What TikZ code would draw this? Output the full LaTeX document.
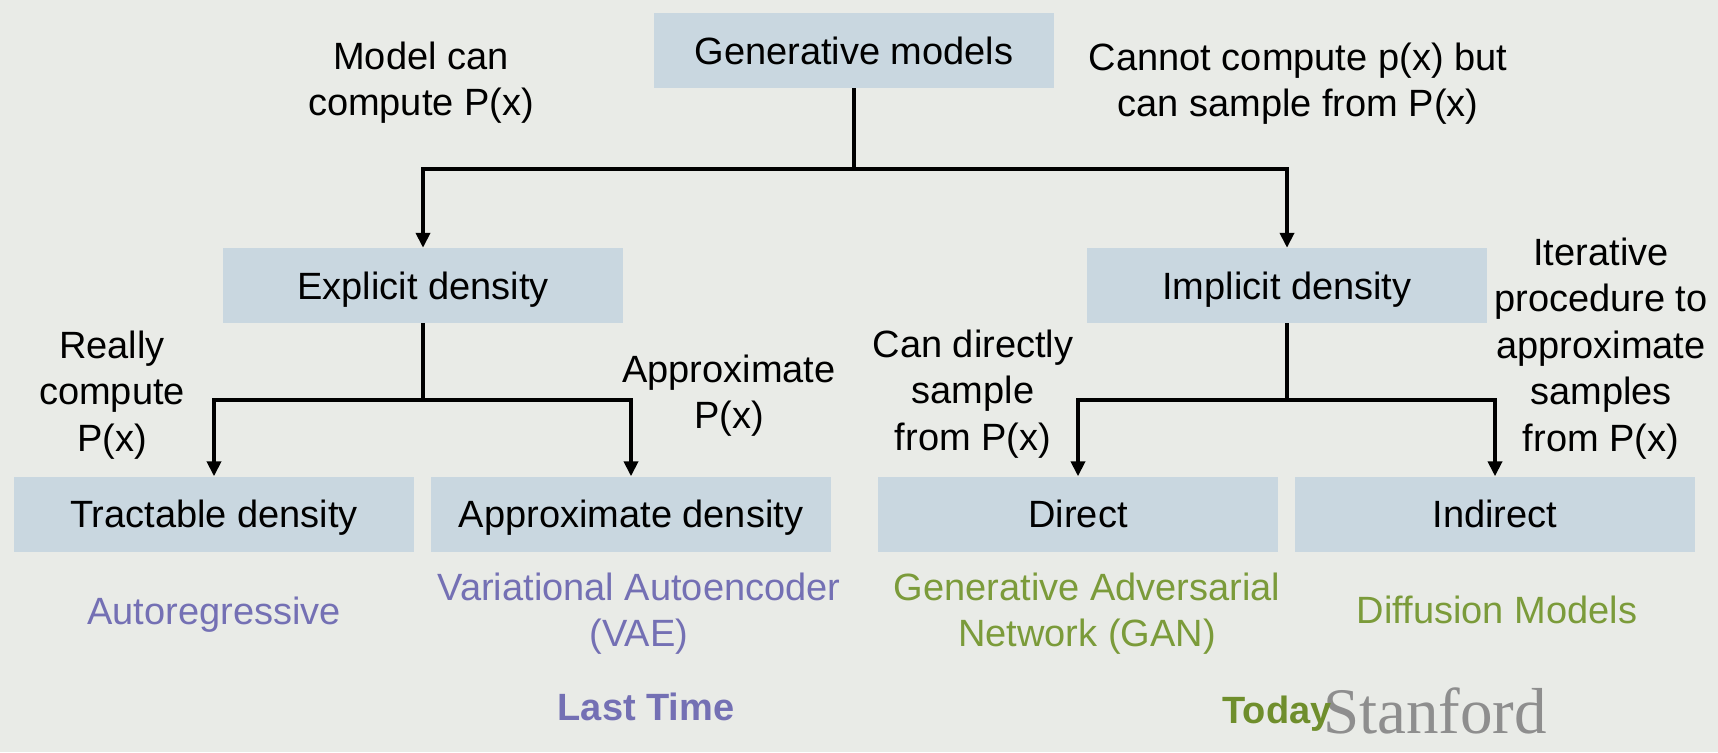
\documentclass[tikz,border=0pt]{standalone}
\usepackage{fontspec}
\setmainfont{Liberation Sans}
\newfontfamily\logofont{Liberation Serif}
\usetikzlibrary{arrows.meta}
\definecolor{bgc}{HTML}{E9EBE7}
\definecolor{boxc}{HTML}{C9D7E0}
\definecolor{purp}{HTML}{7470B4}
\definecolor{grn}{HTML}{7B9B3A}
\definecolor{todayc}{HTML}{6F8E2C}
\definecolor{logoc}{HTML}{8E8E8E}
\tikzset{
  catbox/.style={fill=boxc, draw=none, minimum width=400pt, minimum height=75pt, inner sep=0pt,
    text height=27pt, text depth=0pt, font=\fontsize{38}{46.5}\selectfont},
  note/.style={align=center, inner sep=0pt, anchor=north, font=\fontsize{38}{46.5}\selectfont},
  example/.style={align=center, inner sep=0pt, font=\fontsize{38}{46.5}\selectfont},
  arr/.style={line width=4.5pt, -{Triangle[width=14pt,length=15pt]}},
  stem/.style={line width=4.5pt}
}
\begin{document}
\begin{tikzpicture}[x=1pt,y=-1pt]
\useasboundingbox (0,0) rectangle (1718,752);
\fill[bgc] (0,0) rectangle (1718,752);

% boxes
\node[catbox] (gen)  at (854,50.5)  {Generative models};
\node[catbox] (expl) at (423,285.5) {Explicit density};
\node[catbox] (impl) at (1287,285.5) {Implicit density};
\node[catbox] (trac) at (214,514) {Tractable density};
\node[catbox] (appr) at (631,514) {Approximate density};
\node[catbox] (dir)  at (1078,514) {Direct};
\node[catbox] (ind)  at (1495,514) {Indirect};

% junctions
\coordinate (j0) at (854,169);
\coordinate (je) at (423,400);
\coordinate (ji) at (1287,400);

% connectors
\draw[stem] (gen.south) -- (j0);
\draw[arr] (j0) -| (expl.north);
\draw[arr] (j0) -| (impl.north);
\draw[stem] (expl.south) -- (je);
\draw[arr] (je) -| (trac.north);
\draw[arr] (je) -| (appr.north);
\draw[stem] (impl.south) -- (ji);
\draw[arr] (ji) -| (dir.north);
\draw[arr] (ji) -| (ind.north);

% notes
\node[note] (n1) at (421,41.5) {Model can\\compute P(x)};
\node[note] (n2) at (1298,42.5) {Cannot compute p(x) but\\can sample from P(x)};
\node[note] (n3) at (112,330.5) {Really\\compute\\P(x)};
\node[note] (n4) at (729,354.5) {Approximate\\P(x)};
\node[note] (n5) at (973,329.5) {Can directly\\sample\\from P(x)};
\node[note] (n6) at (1601,237.5) {Iterative\\procedure to\\approximate\\samples\\from P(x)};

% examples
\node[example, text=purp, anchor=base] (e1) at (214,624) {Autoregressive};
\node[example, text=purp, anchor=north] (e2) at (639,572.5) {Variational Autoencoder\\(VAE)};
\node[example, text=grn, anchor=north] (e3) at (1087,572.5) {Generative Adversarial\\Network (GAN)};
\node[example, text=grn, anchor=base] (e4) at (1497,623) {Diffusion Models};

% footer
\node[example, text=purp, anchor=base, font=\fontsize{38}{46.5}\selectfont\bfseries] (lt) at (646,720) {Last Time};
\node[inner sep=0pt, anchor=base, text=logoc, font=\fontsize{65}{70}\selectfont\logofont] (logo) at (1435,733) {Stanford};
\node[example, text=todayc, anchor=base, font=\fontsize{38}{46.5}\selectfont\bfseries] (td) at (1277,723) {Today};
\end{tikzpicture}
\end{document}
